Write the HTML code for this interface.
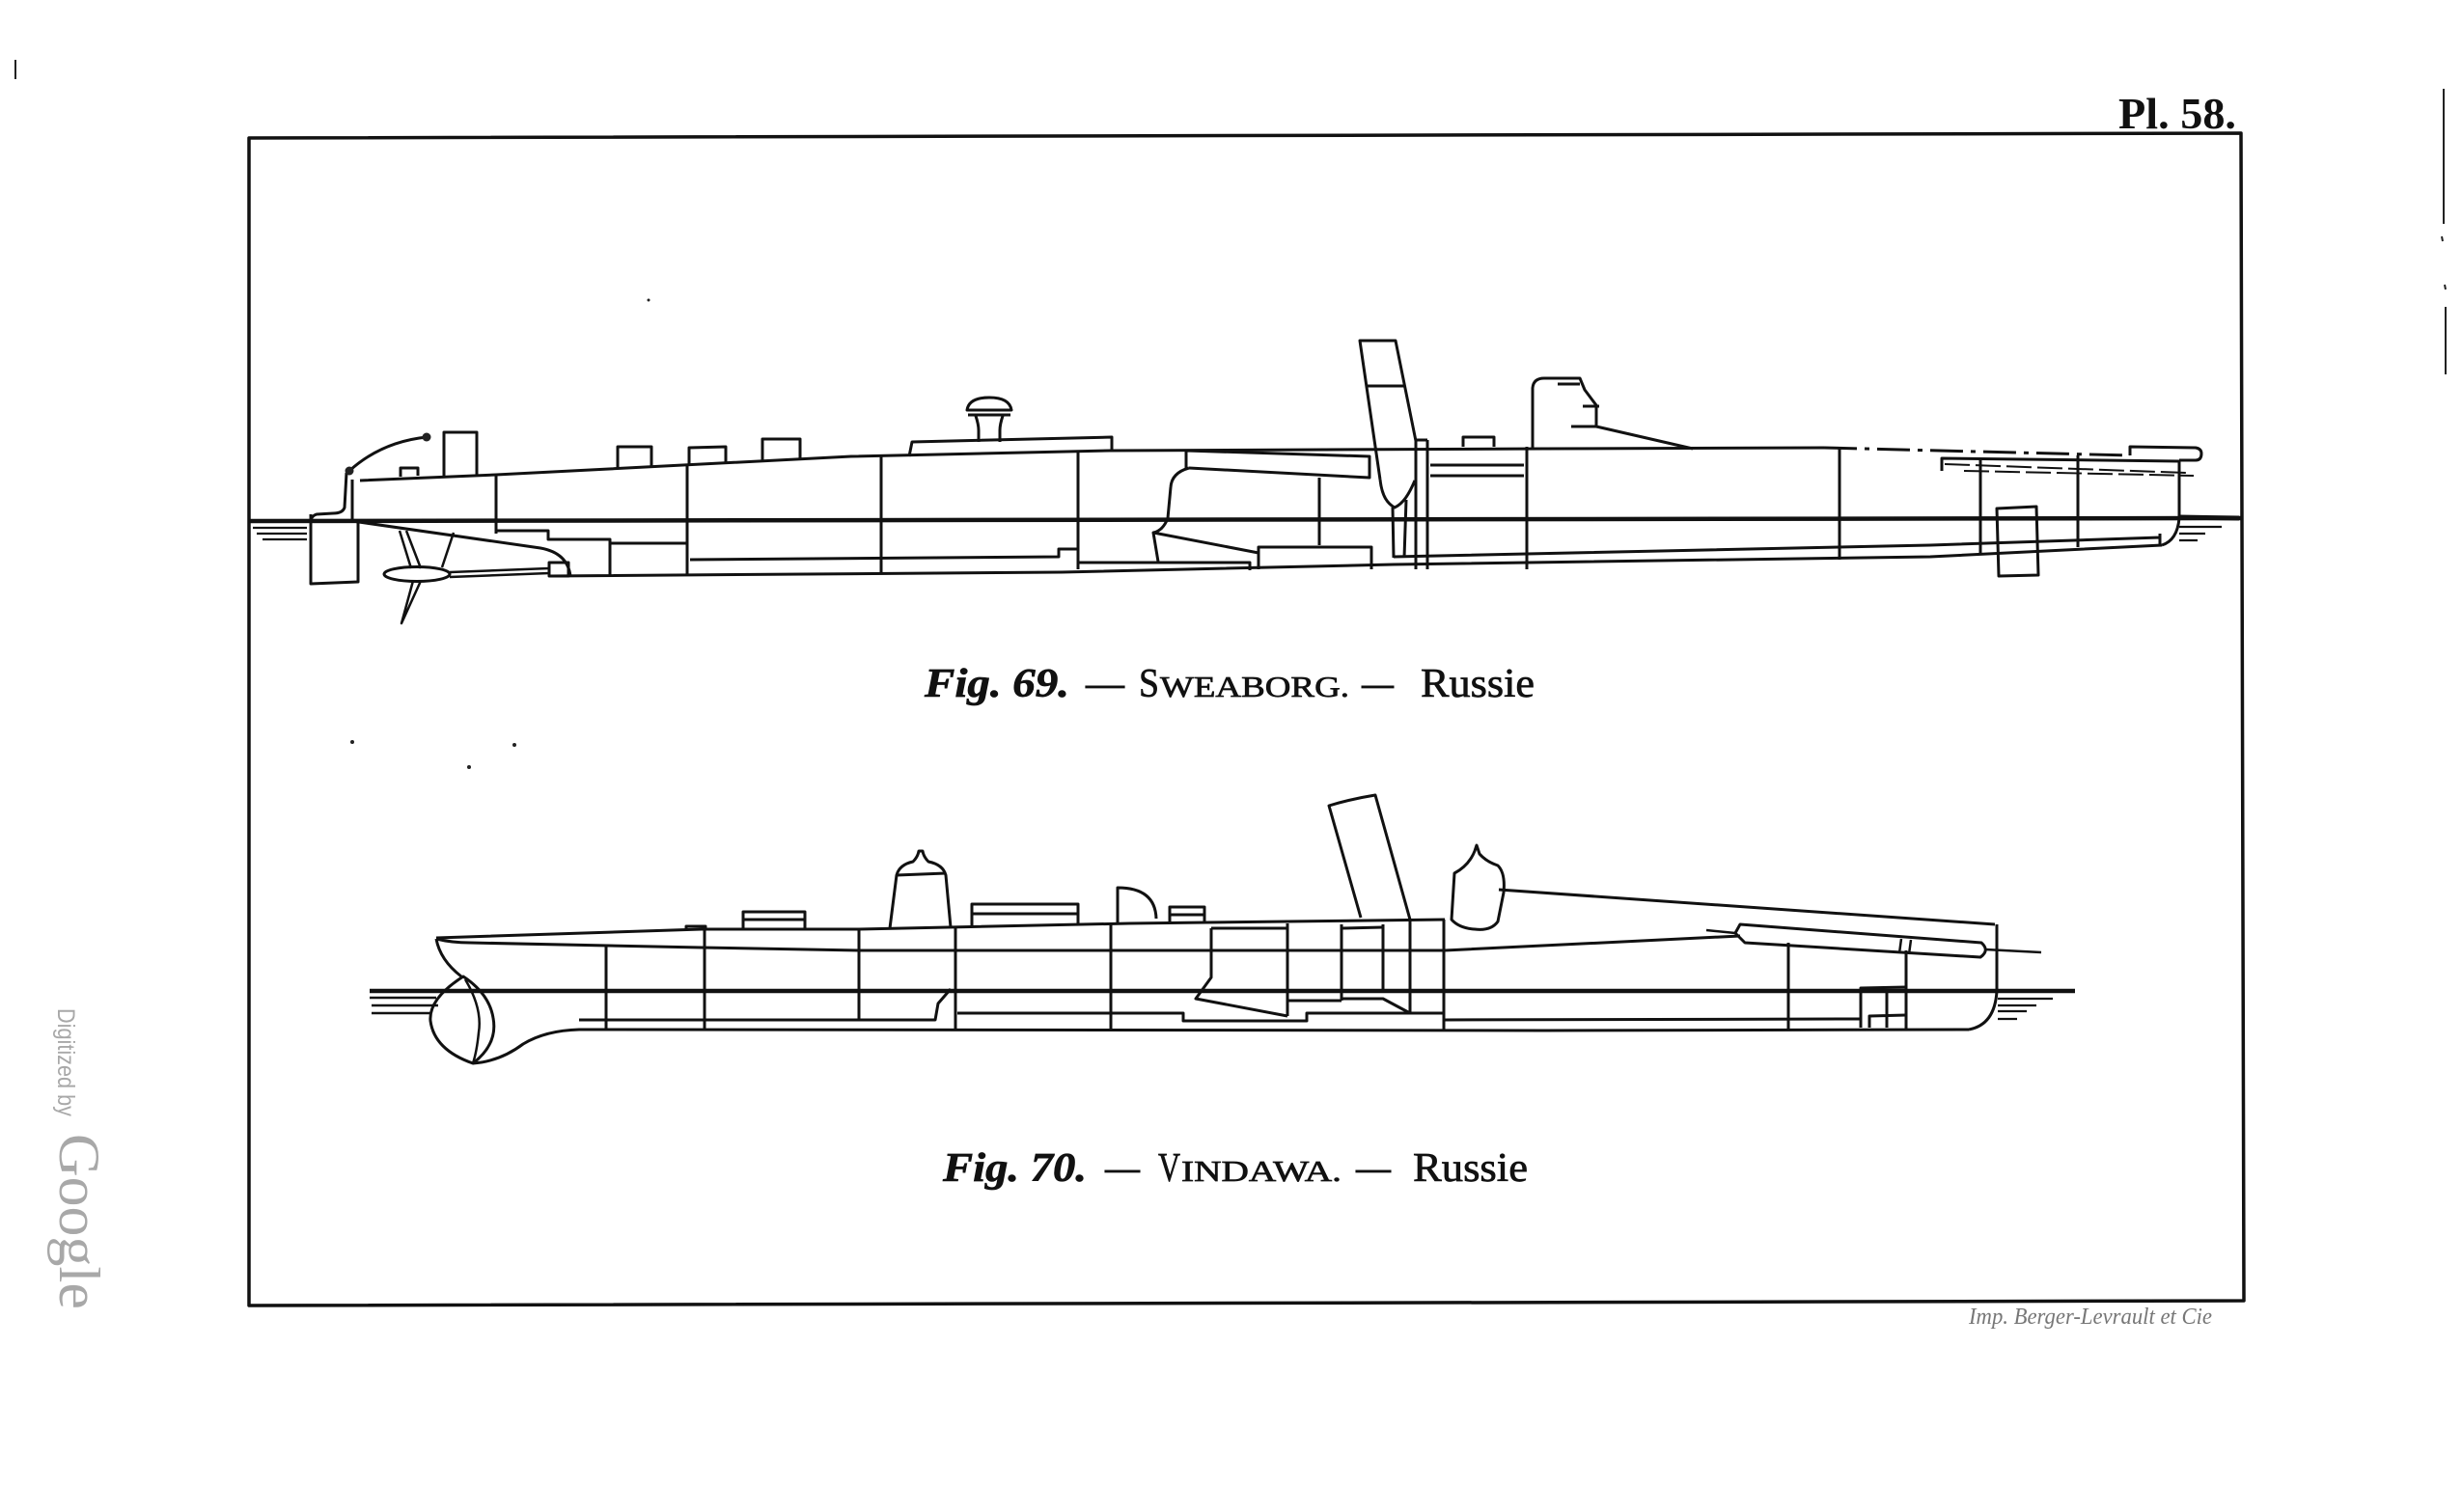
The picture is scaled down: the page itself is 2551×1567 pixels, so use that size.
<!DOCTYPE html>
<html><head><meta charset="utf-8"><style>
html,body{margin:0;padding:0;background:#fff;}
svg{display:block}
</style></head><body>
<svg width="2551" height="1567" viewBox="0 0 2551 1567" xmlns="http://www.w3.org/2000/svg">
<rect width="2551" height="1567" fill="#fff"/>

<!-- edge marks -->
<g stroke="#222" stroke-width="2" fill="none">
<path d="M16,62 L16,82"/>
<path d="M2532,92 L2532,232"/>
<path d="M2534,318 L2534,388"/>
<path d="M2530,245 L2531,250 M2533,295 L2534,300"/>
</g>

<g fill="none" stroke="#111" stroke-width="3" stroke-linejoin="round">
<!-- frame -->
<path d="M258,143 L2322,138 L2325,1348 L258,1353 Z" stroke-width="3.5"/>

<!-- ================= SHIP 1 (Sweaborg) ================= -->
<path d="M259,540 L2323,537" stroke-width="4.5"/>
<path d="M262,547 L318,547 M266,553 L318,553 M272,559 L318,559" stroke-width="2.2"/>
<!-- rudder & stern -->
<path d="M322,533 L322,605 L371,603 L371,540"/>
<path d="M359,490 L357,526 Q355,532 345,532 L328,533 Q322,535 322,541"/>
<path d="M365,497 L365,540"/>
<path d="M362,488 Q395,458 442,453"/>
<path d="M415,494 L415,485 L433,485 L433,493"/>
<path d="M460,494 L460,448 L494,448 L494,493"/>
<!-- deck -->
<path d="M373,498 L514,492 L882,473 L1150,467 L1600,465 L1890,464"/>
<path d="M1890,464 L2207,472" stroke-dasharray="34 8 5 8"/>
<!-- verticals -->
<path d="M514,492 L514,553 M712,481 L712,595 M913,472 L913,593 M1117,468 L1117,590"/>
<!-- deck boxes -->
<path d="M640,486 L640,463 L675,463 L675,484 M714,482 L714,464 L752,463 L752,480 M790,478 L790,455 L829,455 L829,476"/>
<path d="M942,473 L945,458 L1152,453 L1152,467"/>
<!-- ventilator -->
<path d="M1002,425 Q1004,412 1025,412 Q1046,412 1048,425 Z M1003,430 L1047,430 M1011,431 Q1014,440 1014,446 L1014,458 M1039,431 Q1036,440 1036,446 L1036,458"/>
<!-- underwater aft -->
<path d="M365,540 Q470,555 560,568 Q588,573 591,597"/>
<path d="M514,550 L568,550 L568,559 L632,559 L632,596 M632,563 L712,563"/>
<path d="M569,597 L1100,593 L1444,585 L2000,577 L2240,565"/>
<path d="M715,580 L1097,577 L1097,569 L1117,569 L1117,583 L1295,583 L1295,591"/>
<path d="M1444,577 L2000,565 L2238,557 M2238,553 L2238,566"/>
<!-- propeller -->
<ellipse cx="432" cy="595" rx="34" ry="7.5"/>
<path d="M414,550 L426,589 M421,550 L436,589 M428,602 L416,646 L436,602" stroke-width="2.5"/>
<path d="M470,552 L458,588" stroke-width="2.5"/>
<path d="M466,593 L569,589 M466,598 L569,594" stroke-width="2.5"/>
<path d="M569,583 L589,583 L589,597 L569,597 Z"/>
<!-- midship -->
<path d="M1229,485 L1229,467 L1419,473 L1419,495 L1232,485"/>
<path d="M1232,485 Q1214,490 1213,505 L1210,537 Q1205,550 1195,552 L1200,582"/>
<path d="M1195,552 L1304,573"/>
<path d="M1304,590 L1304,567 L1421,567 L1421,590"/>
<path d="M1367,495 L1367,565"/>
<!-- funnel 1 -->
<path d="M1430,497 L1409,353 L1446,353 L1467,457"/>
<path d="M1416,400 L1455,400"/>
<path d="M1430,497 C1432,515 1438,522 1445,526 C1454,522 1460,512 1466,498"/>
<path d="M1443,526 L1444,578 M1457,518 L1455,578"/>
<path d="M1467,456 L1467,590 M1479,456 L1479,590 M1467,456 L1479,456"/>
<path d="M1516,463 L1516,453 L1548,453 L1548,463"/>
<path d="M1482,482 L1579,482 M1482,493 L1579,493"/>
<path d="M1582,463 L1582,590"/>
<!-- bridge -->
<path d="M1588,464 L1588,402 Q1589,392 1600,392 L1637,392 L1642,404 L1654,420 L1654,442 L1754,465"/>
<path d="M1614,398 L1637,398 M1640,421 L1657,421 M1628,442 L1654,442"/>
<path d="M1906,465 L1906,580"/>
<path d="M2052,475 L2052,573 M2153,472 L2153,567"/>
<!-- bow -->
<path d="M2207,472 L2207,463 L2275,464 Q2281,465 2281,470 Q2281,477 2275,477 L2258,477"/>
<path d="M2012,488 L2012,475 L2258,478"/>
<path d="M2015,481 L2265,490 M2035,488 L2273,493" stroke-width="2" stroke-dasharray="26 6"/>
<path d="M2258,477 L2258,537 Q2256,560 2240,565"/>
<path d="M2069,527 L2110,525 L2112,596 L2071,597 Z"/>
<path d="M2258,536 L2320,537" stroke-width="5"/>
<path d="M2258,546 L2302,546 M2258,553 L2285,553 M2258,560 L2277,560" stroke-width="2.2"/>

<!-- ================= SHIP 2 (Vindawa) ================= -->
<path d="M383,1027 L2150,1027" stroke-width="4.5"/>
<path d="M383,1034 L452,1034 M385,1042 L454,1042 M385,1050 L447,1050" stroke-width="2.5"/>
<path d="M2070,1035 L2127,1035 M2070,1042 L2110,1042 M2070,1048 L2100,1048 M2070,1056 L2090,1056" stroke-width="2.2"/>
<!-- deck & sheer -->
<path d="M452,972 L727,963 L890,963 L1170,957 L1497,953"/>
<path d="M452,973 Q468,977 487,977 L727,982 L890,985 L1497,985 L1803,970"/>
<path d="M452,973 Q456,995 478,1012"/>
<!-- ram bow -->
<path d="M480,1012 Q444,1035 446,1058 Q450,1088 490,1102 Q516,1082 511,1055 Q507,1030 480,1012 Z"/>
<path d="M482,1015 Q500,1045 496,1070 Q494,1090 490,1102" stroke-width="2.5"/>
<path d="M490,1102 Q518,1100 542,1082 Q565,1068 600,1067 L1600,1068 L2040,1067"/>
<path d="M600,1057 L969,1057 L972,1040 L985,1025"/>
<path d="M992,1050 L1226,1050 L1226,1058 L1354,1058 L1354,1050 L1496,1050"/>
<path d="M1496,1057 L1928,1056"/>
<!-- verticals -->
<path d="M628,979 L628,1067 M730,963 L730,1068 M890,963 L890,1058 M990,961 L990,1068 M1151,957 L1151,1068"/>
<path d="M711,965 L711,960 L731,960 L731,964"/>
<path d="M770,963 L770,945 L834,945 L834,962 M770,953 L834,953"/>
<!-- small funnel / ventilator -->
<path d="M922,962 L929,907 Q932,896 946,893 Q951,888 952,882 L956,882 Q957,888 962,893 Q977,896 980,907 L985,961"/>
<path d="M929,907 L980,905"/>
<path d="M1007,960 L1007,937 L1117,937 L1117,958 M1007,947 L1117,947"/>
<path d="M1158,957 L1158,920 Q1197,920 1198,952"/>
<path d="M1212,957 L1212,940 L1248,940 L1248,957 M1212,948 L1248,948"/>
<!-- funnel 2 -->
<path d="M1410,951 L1377,835 Q1400,828 1425,824 L1461,953"/>
<!-- bridge 2 -->
<path d="M1504,953 L1507,905 Q1522,897 1528,882 L1530,876 L1533,885 Q1540,893 1552,897 Q1560,905 1558,925 L1552,955 Q1545,965 1528,963 Q1512,962 1504,953 Z"/>
<!-- casemate -->
<path d="M1255,962 L1334,962 M1255,962 L1255,1013 L1239,1035 L1334,1053"/>
<path d="M1334,957 L1334,1053 M1390,958 L1390,1037 M1433,958 L1433,1028 M1461,953 L1461,1050 M1496,953 L1496,1067"/>
<path d="M1334,1037 L1390,1037 M1390,1035 L1433,1035 L1461,1050 M1390,962 L1433,961"/>
<!-- forward -->
<path d="M1553,922 L2067,958"/>
<path d="M2069,958 L2069,1027 Q2067,1062 2040,1067"/>
<path d="M1798,967 L1803,958 L2053,977 Q2062,985 2052,992 L1808,977 Z"/>
<path d="M1970,973 L1968,988 M1980,974 L1978,989" stroke-width="2.5"/>
<path d="M1768,964 L1798,967 M2057,984 L2115,987" stroke-width="2.5"/>
<path d="M1853,977 L1853,1067 M1975,985 L1975,1067"/>
<path d="M1928,1065 L1928,1024 L1975,1023 M1955,1024 L1955,1065 M1937,1065 L1937,1053 L1975,1052"/>
</g>

<!-- dots -->
<g fill="#222">
<circle cx="362" cy="488" r="4.5"/>
<circle cx="442" cy="453" r="4.5"/>
<circle cx="365" cy="769" r="2"/>
<circle cx="486" cy="795" r="2"/>
<circle cx="533" cy="772" r="2"/>
<circle cx="672" cy="311" r="1.5"/>
</g>

<!-- plate number -->
<text x="2195" y="133" font-family="Liberation Serif, serif" font-weight="bold" font-size="46" fill="#111" textLength="122" lengthAdjust="spacingAndGlyphs">Pl. 58.</text>

<!-- caption 1 -->
<g font-family="Liberation Serif, serif" fill="#111" stroke="#111" stroke-width="0.7">
<text x="958" y="722" font-weight="bold" font-style="italic" font-size="42" textLength="150" lengthAdjust="spacingAndGlyphs">Fig. 69.</text>
<text x="1125" y="722" font-size="42" textLength="40" lengthAdjust="spacingAndGlyphs">—</text>
<text x="1180" y="722" font-size="42" textLength="21" lengthAdjust="spacingAndGlyphs">S</text>
<text x="1202" y="722" font-size="31" textLength="196" lengthAdjust="spacingAndGlyphs">WEABORG.</text>
<text x="1411" y="722" font-size="42" textLength="33" lengthAdjust="spacingAndGlyphs">—</text>
<text x="1472" y="722" font-size="42" textLength="118" lengthAdjust="spacingAndGlyphs">Russie</text>
</g>

<!-- caption 2 -->
<g font-family="Liberation Serif, serif" fill="#111" stroke="#111" stroke-width="0.7">
<text x="977" y="1224" font-weight="bold" font-style="italic" font-size="42" textLength="149" lengthAdjust="spacingAndGlyphs">Fig. 70.</text>
<text x="1145" y="1224" font-size="42" textLength="36" lengthAdjust="spacingAndGlyphs">—</text>
<text x="1200" y="1224" font-size="42" textLength="23" lengthAdjust="spacingAndGlyphs">V</text>
<text x="1224" y="1224" font-size="31" textLength="166" lengthAdjust="spacingAndGlyphs">INDAWA.</text>
<text x="1405" y="1224" font-size="42" textLength="36" lengthAdjust="spacingAndGlyphs">—</text>
<text x="1464" y="1224" font-size="42" textLength="119" lengthAdjust="spacingAndGlyphs">Russie</text>
</g>

<!-- credit -->
<text x="2040" y="1372" font-family="Liberation Serif, serif" font-style="italic" font-size="24" fill="#777" textLength="252" lengthAdjust="spacingAndGlyphs">Imp. Berger-Levrault et Cie</text>

<!-- watermark -->
<g fill="#a8a8a8" font-family="Liberation Sans, sans-serif">
<text transform="translate(60,1045) rotate(90)" font-size="25" textLength="112" lengthAdjust="spacingAndGlyphs">Digitized by</text>
<text transform="translate(62,1175) rotate(90)" font-family="Liberation Serif, serif" font-size="60" textLength="182" lengthAdjust="spacingAndGlyphs">Google</text>
</g>
</svg>
</body></html>
